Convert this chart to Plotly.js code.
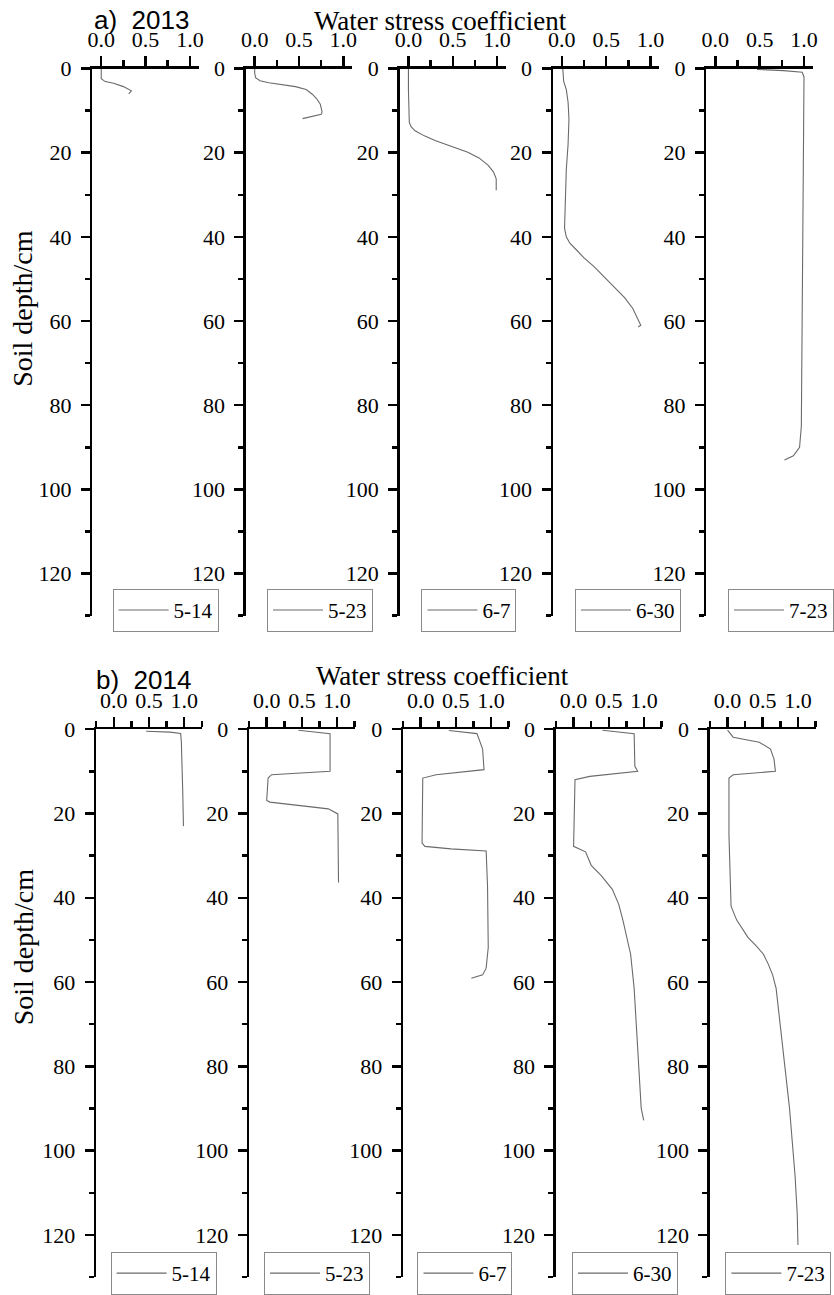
<!DOCTYPE html>
<html><head><meta charset="utf-8">
<script src="https://cdn.plot.ly/plotly-3.0.1.min.js"></script>
<style>body{margin:0;background:#fff}#chart{width:834px;height:1295px}</style>
</head><body><div id="chart"></div>
<script>
// ---- data ----
const dates = ['5-14', '5-23', '6-7', '6-30', '7-23'];
const yearLabels = ['a)  2013', 'b)  2014'];
const xTitle = 'Water stress coefficient';
const yTitle = 'Soil depth/cm';
const xTickVals = [0, 0.5, 1.0];
const xTickText = ['0.0', '0.5', '1.0'];
const yTickVals = [0, 20, 40, 60, 80, 100, 120];
const yMinorVals = [10, 30, 50, 70, 90, 110, 130];

// 2013
const ks2013_0514 = [0.0, 0.0, 0.0, 0.045, 0.14, 0.25, 0.32, 0.34, 0.31];
const depth2013_0514 = [0, 1, 2.4, 3.1, 3.5, 4.3, 5.0, 5.3, 6.0];
const ks2013_0523 = [0.0, 0.0, 0.01, 0.06, 0.16, 0.30, 0.46, 0.58, 0.65, 0.70, 0.74, 0.76, 0.75, 0.54];
const depth2013_0523 = [0, 1, 2.2, 2.9, 3.4, 3.9, 4.3, 5.0, 6.1, 7.2, 8.5, 10.3, 10.9, 11.9];
const ks2013_0607 = [0.0, 0.0, 0.01, 0.03, 0.075, 0.18, 0.30, 0.48, 0.67, 0.80, 0.90, 0.96, 0.99, 0.99];
const depth2013_0607 = [0, 5, 12.8, 13.8, 14.8, 16.0, 17.1, 18.4, 19.9, 21.3, 23.0, 24.6, 26.2, 28.9];
const ks2013_0630 = [0.01, 0.02, 0.05, 0.07, 0.08, 0.07, 0.05, 0.04, 0.03, 0.03, 0.05, 0.09, 0.16, 0.25, 0.36, 0.48, 0.60, 0.71, 0.80, 0.86, 0.89, 0.86];
const depth2013_0630 = [0, 3, 5, 8, 12, 18, 24, 30, 35, 38, 40, 41.5, 43, 45, 47, 49.5, 52, 54.5, 57, 59.5, 61, 61.4];
const ks2013_0723 = [0.47, 0.77, 0.98, 1.0, 0.99, 0.98, 0.97, 0.95, 0.88, 0.78];
const depth2013_0723 = [0.2, 0.5, 0.9, 2, 30, 60, 85, 90, 92, 93];

// 2014
const ks2014_0514 = [0.46, 0.80, 0.95, 0.96, 0.98, 0.99];
const depth2014_0514 = [0.5, 0.7, 1.0, 3, 15, 23];
const ks2014_0523 = [0.45, 0.90, 0.90, 0.07, 0.02, 0.0, 0.045, 0.875, 1.01, 1.02];
const depth2014_0523 = [0.24, 1.05, 10.0, 10.8, 11.6, 16.9, 17.3, 18.9, 20.1, 36.4];
const ks2014_0607 = [0.40, 0.80, 0.88, 0.90, 0.22, 0.03, 0.02, 0.06, 0.43, 0.93, 0.95, 0.96, 0.93, 0.88, 0.72];
const depth2014_0607 = [0.3, 1.05, 4.7, 9.6, 10.8, 11.6, 27.0, 27.8, 28.4, 28.9, 37.2, 51.8, 56.7, 58.3, 59.1];
const ks2014_0630 = [0.41, 0.86, 0.87, 0.91, 0.23, 0.02, 0.0, 0.17, 0.25, 0.39, 0.55, 0.64, 0.70, 0.76, 0.81, 0.86, 0.92, 0.96, 0.996];
const depth2014_0630 = [0.24, 1.05, 8.8, 10.0, 11.2, 12.0, 27.8, 29.1, 32.3, 34.7, 38.0, 41.5, 45.3, 49.5, 53.4, 61.5, 77.8, 89.9, 92.8];
const ks2014_0723 = [0.0, 0.08, 0.45, 0.61, 0.66, 0.68, 0.08, 0.02, 0.02, 0.03, 0.05, 0.13, 0.29, 0.41, 0.51, 0.58, 0.64, 0.69, 0.77, 0.88, 0.96, 0.99, 1.0];
const depth2014_0723 = [0.24, 1.9, 3.1, 4.7, 7.1, 10.0, 10.8, 11.6, 25.0, 33.1, 42.0, 45.3, 49.4, 51.5, 53.4, 55.8, 58.3, 61.5, 73.7, 89.9, 106.2, 115.1, 122.4];

const series = [
  [[ks2013_0514, depth2013_0514], [ks2013_0523, depth2013_0523], [ks2013_0607, depth2013_0607], [ks2013_0630, depth2013_0630], [ks2013_0723, depth2013_0723]],
  [[ks2014_0514, depth2014_0514], [ks2014_0523, depth2014_0523], [ks2014_0607, depth2014_0607], [ks2014_0630, depth2014_0630], [ks2014_0723, depth2014_0723]]
];

// ---- layout geometry (pixels) ----
const W = 834, H = 1295;
const rows = [
  {top: 69, bottom: 620, lefts: [92.7, 246.7, 401, 555, 709], width: 106.8, xrange: [-0.1, 1.1], xminor: [0.25, 0.75],
   legLefts: [113, 268, 423, 577, 731], legTop: 593, titleY: 20, xTitleX: 442, xTitleY: 21, labelX: 142, yTitleY: 310},
  {top: 734.3, bottom: 1286, lefts: [96.5, 250, 404.5, 558, 712.5], width: 106, xrange: [-0.25, 1.25], xminor: [-0.25, 0.25, 0.75, 1.25],
   legLefts: [111, 265, 419, 574, 728], legTop: 1261, titleY: 685, xTitleX: 444, xTitleY: 681, labelX: 144, yTitleY: 953}
];
const px = v => v / W;
const py = v => 1 - v / H;
const serif = 'Liberation Serif';
const sans = 'Liberation Sans';

const traces = [];
const layout = {
  width: W, height: H, margin: {l: 0, r: 0, t: 0, b: 0},
  paper_bgcolor: '#fff', plot_bgcolor: '#fff',
  font: {family: serif, size: 21, color: '#000'},
  annotations: [], showlegend: true
};

rows.forEach((row, r) => {
  dates.forEach((d, i) => {
    const n = r * 5 + i + 1;
    const xs = n === 1 ? '' : String(n);
    const legName = n === 1 ? 'legend' : 'legend' + n;
    const [xv, yv] = series[r][i];
    traces.push({
      type: 'scatter', mode: 'lines', x: xv, y: yv, name: d,
      xaxis: 'x' + xs, yaxis: 'y' + xs, legend: legName,
      line: {color: '#6a6a6a', width: 1.1, shape: 'linear'}, showlegend: true, hoverinfo: 'skip'
    });
    const x0 = row.lefts[i];
    layout['xaxis' + xs] = {
      domain: [px(x0), px(x0 + row.width)], range: row.xrange, side: 'top', anchor: 'y' + xs,
      showline: true, linewidth: 2.5, linecolor: '#000', ticks: 'outside', ticklen: 10, tickwidth: 2.5, tickcolor: '#000',
      tickmode: 'array', tickvals: xTickVals, ticktext: xTickText,
      tickfont: {family: serif, size: 22, color: '#000'},
      minor: {tickmode: 'array', tickvals: row.xminor, ticks: 'outside', ticklen: 6, tickwidth: 2.5, tickcolor: '#000', showgrid: false},
      showgrid: false, zeroline: false, fixedrange: true
    };
    layout['yaxis' + xs] = {
      domain: [py(row.bottom), py(row.top)], range: [130, 0], anchor: 'x' + xs,
      showline: true, linewidth: 2.5, linecolor: '#000', ticks: 'outside', ticklen: 9, tickwidth: 2.5, tickcolor: '#000',
      tickmode: 'array', tickvals: yTickVals, ticklabelstandoff: 5,
      tickfont: {family: serif, size: 22, color: '#000'},
      minor: {tickmode: 'array', tickvals: yMinorVals, ticks: 'outside', ticklen: 5, tickwidth: 2.5, tickcolor: '#000', showgrid: false},
      showgrid: false, zeroline: false, fixedrange: true
    };
    layout[legName] = {
      x: px(row.legLefts[i]), y: py(row.legTop), xref: 'paper', yref: 'paper',
      xanchor: 'left', yanchor: 'top', bgcolor: '#fff', bordercolor: '#8a8a8a', borderwidth: 1,
      font: {family: serif, size: 21, color: '#000'}, itemwidth: 50, tracegroupgap: 0
    };
  });
  layout.annotations.push(
    {text: yearLabels[r], xref: 'paper', yref: 'paper', x: px(row.labelX), y: py(row.titleY), xanchor: 'center', yanchor: 'middle',
     showarrow: false, font: {family: sans, size: 26, color: '#000'}},
    {text: xTitle, xref: 'paper', yref: 'paper', x: px(row.xTitleX), y: py(row.xTitleY), xanchor: 'center', yanchor: 'middle',
     showarrow: false, font: {family: serif, size: 27, color: '#000'}},
    {text: yTitle, xref: 'paper', yref: 'paper', x: px(23), y: py(row.yTitleY), xanchor: 'center', yanchor: 'middle', textangle: -90,
     showarrow: false, font: {family: serif, size: 28, color: '#000'}}
  );
});

Plotly.newPlot('chart', traces, layout, {staticPlot: true, displayModeBar: false});
</script>
</body></html>
